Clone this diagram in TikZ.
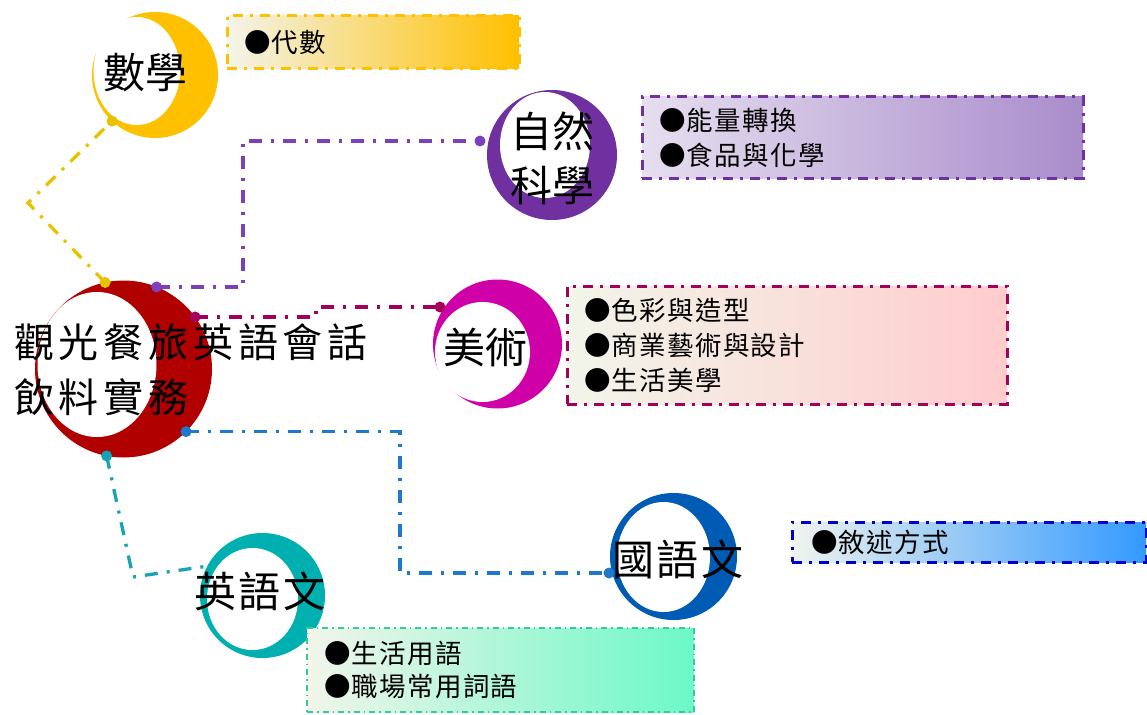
\documentclass[tikz,border=0pt]{standalone}
\usepackage{fontspec}
\setmainfont{Noto Sans CJK TC}
\definecolor{cYel}{HTML}{FFC000}
\definecolor{cYelLine}{HTML}{E6C200}
\definecolor{cYelL}{HTML}{F3F4EA}
\definecolor{cYelM}{HTML}{F3E4AE}
\definecolor{cPur}{HTML}{7030A0}
\definecolor{cPurLine}{HTML}{7E3FBA}
\definecolor{cPurL}{HTML}{E6DFEF}
\definecolor{cPurR}{HTML}{A98CCB}
\definecolor{cRed}{HTML}{B00000}
\definecolor{cMag}{HTML}{D000A8}
\definecolor{cPink}{HTML}{A3005C}
\definecolor{cPinkL}{HTML}{F2F5EA}
\definecolor{cPinkR}{HTML}{FFCCCC}
\definecolor{cBlu}{HTML}{005BB5}
\definecolor{cBluLine}{HTML}{1E78CC}
\definecolor{cBluBox}{HTML}{0000CD}
\definecolor{cBluL}{HTML}{F0F4EE}
\definecolor{cBluR}{HTML}{3399FF}
\definecolor{cTeal}{HTML}{00B0B0}
\definecolor{cTealLine}{HTML}{17A3B3}
\definecolor{cGrnBox}{HTML}{33CC99}
\definecolor{cGrnL}{HTML}{F2F5EA}
\definecolor{cGrnR}{HTML}{6CF8C8}
\begin{document}
\begin{tikzpicture}[x=1pt,y=-1pt,
  ring/.style={circle, inner sep=0pt, outer sep=0pt, minimum size=#1},
  bigtxt/.style={font=\fontsize{42}{54}\selectfont, inner sep=0pt, align=center, text=black},
  infobox/.style={font=\fontsize{26.5}{35}\selectfont\addfontfeatures{LetterSpace=5}, align=left,
    inner xsep=17pt, inner ysep=0pt, outer sep=0pt, anchor=north west, line width=3pt,
    dash pattern=on 10pt off 7pt on 3pt off 7pt},
  conn/.style={line width=3.3pt, dash pattern=on 13pt off 9pt on 3pt off 9pt},
]
\useasboundingbox (0,0) rectangle (1147,714);

% crescents
\node[ring=126pt, fill=cYel] (math) at (155,75) {};
\fill[white] (136.75,71) ellipse [x radius=43.25, y radius=54];

\node[ring=130pt, fill=cPur] (sci) at (552,155) {};
\fill[white] (545,145) ellipse [x radius=45, y radius=53];

\node[ring=177pt, fill=cRed] (main) at (123.5,369) {};
\fill[white] (97,364.5) ellipse [x radius=59.5, y radius=72.5];

\node[ring=129pt, fill=cMag] (art) at (497.5,344) {};
\fill[white] (482.5,352) ellipse [x radius=47.5, y radius=50];

\node[ring=125pt, fill=cTeal] (eng) at (262.5,595.5) {};
\fill[white] (252.5,599) ellipse [x radius=45.5, y radius=51];

\node[ring=127pt, fill=cBlu] (chi) at (673.5,556.5) {};
\fill[white] (663.5,557) ellipse [x radius=46.5, y radius=55];

% info boxes
\node[infobox, draw=cYel, left color=cYelL, middle color=cYelM, right color=cYel,
  minimum width=292pt, minimum height=53pt, text width=258pt] (mathBox) at (227,16) {●代數};
\node[infobox, draw=cPur, left color=cPurL, right color=cPurR,
  minimum width=441pt, minimum height=81pt, text width=407pt] (sciBox) at (642,97) {●能量轉換\\●食品與化學};
\node[infobox, draw=cPink, left color=cPinkL, right color=cPinkR,
  minimum width=440pt, minimum height=118pt, text width=406pt] (artBox) at (567,286) {●色彩與造型\\●商業藝術與設計\\●生活美學};
\node[infobox, draw=cGrnBox, line width=1.5pt, dash pattern=on 6pt off 4pt on 1.5pt off 4pt,
  left color=cGrnL, right color=cGrnR, font=\fontsize{26.5}{33}\selectfont\addfontfeatures{LetterSpace=5},
  minimum width=387pt, minimum height=84pt, text width=353pt] (engBox) at (307,628) {●生活用語\\●職場常用詞語};
\node[infobox, draw=cBluBox, left color=cBluL, right color=cBluR, inner xsep=19pt,
  minimum width=354pt, minimum height=40pt, text width=316pt] (chiBox) at (792,522) {●敘述方式};

% connector bend points
\coordinate (yBend) at (28,203);
\coordinate (pBend) at (243,141);
\coordinate (sciIn) at (480,141);
\coordinate (kBend) at (316,307);
\coordinate (artIn) at (440,307);
\coordinate (bBend) at (400,573);
\coordinate (chiIn) at (609,573);
\coordinate (tBend) at (133,577);

% connectors
\draw[conn, cYelLine] (main.102) -- (yBend) -- (math.227);
\draw[conn, cPurLine] (main.68) -| (pBend) -- (sciIn);
\draw[conn, cPink] (main.36) -| (kBend) -- (artIn);
\draw[conn, cBluLine] (main.-45) -| (bBend) -- (chiIn);
\draw[conn, cTealLine] (main.-101) -- (tBend) -- (eng.152);

% end dots
\fill[cYelLine] (main.102) circle (5.5) (math.227) circle (5.5);
\fill[cPurLine] (main.68) circle (5.5) (sciIn) circle (5.5);
\fill[cPink] (main.36) circle (5.5) (artIn) circle (5.5);
\fill[cBluLine] (main.-45) circle (5.5) (chiIn) circle (5.5);
\fill[cTealLine] (main.-101) circle (5.5);

% labels
\node[bigtxt] (mathT) at (145,72.5) {數學};
\node[bigtxt] (sciT) at (552,158) {自然\\科學};
\node[bigtxt] (artT) at (485,348) {美術};
\node[bigtxt, font=\fontsize{42}{54}\selectfont\addfontfeatures{LetterSpace=7}] (engT) at (260,591) {英語文};
\node[bigtxt, font=\fontsize{42}{54}\selectfont\addfontfeatures{LetterSpace=5}] (chiT) at (678,559) {國語文};
\node[bigtxt, align=left, anchor=west, font=\fontsize{40}{55}\selectfont\addfontfeatures{LetterSpace=12}] (mainT) at (14,369.5) {觀光餐旅英語會話\\飲料實務};
\end{tikzpicture}
\end{document}
